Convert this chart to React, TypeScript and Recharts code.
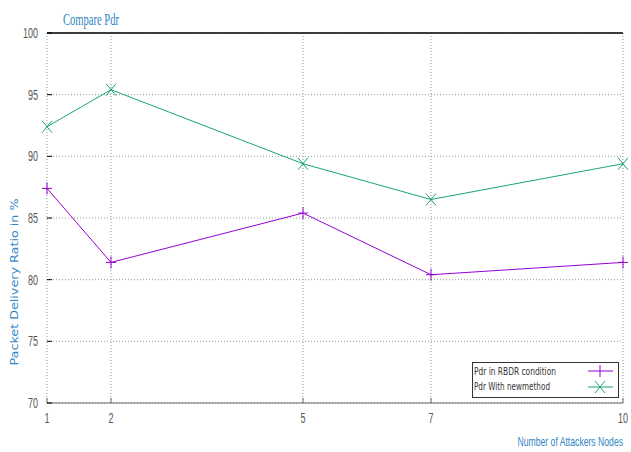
import React from 'react';
import { LineChart, Line, XAxis, YAxis, CartesianGrid, ReferenceLine } from 'recharts';

const attackers = [1, 2, 5, 7, 10];
const pdrRbdr = [87.4, 81.4, 85.4, 80.4, 81.4];
const pdrNew = [92.4, 95.4, 89.4, 86.5, 89.4];
const yTicks = [70, 75, 80, 85, 90, 95, 100];

const PURPLE = '#9400d3';
const GREEN = '#1aa37a';
const BLUE = '#2f86c6';
const NARROW = '"Liberation Sans Narrow", "DejaVu Sans Condensed", sans-serif';

const data = attackers.map((n, i) => ({ n, rbdr: pdrRbdr[i], fresh: pdrNew[i] }));

// gnuplot-style squeezed tick labels
const SqueezedTick = (props: any) => {
  const { x, y, payload, anchor, dy } = props;
  return (
    <g transform={`translate(${x},${y}) scale(0.6,1)`}>
      <text x={0} y={0} dy={dy} textAnchor={anchor} fontFamily='"Liberation Sans", sans-serif' fontSize={15} fill="#555">
        {payload.value}
      </text>
    </g>
  );
};

const PlusDot = (props: any) => {
  const { cx, cy } = props;
  if (cx == null || cy == null) return null;
  return (
    <g stroke={PURPLE} strokeWidth={1}>
      <line x1={cx - 5} y1={cy} x2={cx + 5} y2={cy} />
      <line x1={cx} y1={cy - 6} x2={cx} y2={cy + 6} />
    </g>
  );
};

const CrossDot = (props: any) => {
  const { cx, cy } = props;
  if (cx == null || cy == null) return null;
  return (
    <g stroke={GREEN} strokeWidth={1}>
      <line x1={cx - 5} y1={cy - 6} x2={cx + 5} y2={cy + 6} />
      <line x1={cx - 5} y1={cy + 6} x2={cx + 5} y2={cy - 6} />
    </g>
  );
};

const LegendBox = () => (
  <svg width={148} height={37} style={{ position: 'absolute', left: 472, top: 362 }}>
    <rect x={0.5} y={0.5} width={146} height={35} fill="#fff" stroke="#333" />
    <text x={2} y={13} fontFamily={NARROW} fontSize={11} fill="#333" textLength={82} lengthAdjust="spacingAndGlyphs">
      Pdr in RBDR condition
    </text>
    <text x={2} y={28} fontFamily={NARROW} fontSize={11} fill="#333" textLength={76} lengthAdjust="spacingAndGlyphs">
      Pdr With newmethod
    </text>
    <line x1={116} y1={9} x2={141} y2={9} stroke={PURPLE} />
    <line x1={128} y1={3} x2={128} y2={15} stroke={PURPLE} />
    <line x1={116} y1={25} x2={141} y2={25} stroke={GREEN} />
    <line x1={123} y1={19} x2={133} y2={31} stroke={GREEN} />
    <line x1={123} y1={31} x2={133} y2={19} stroke={GREEN} />
  </svg>
);

export default function App() {
  return (
    <div style={{ position: 'absolute', left: 0, top: 0, width: 631, height: 452, background: '#fff' }}>
      <LineChart width={631} height={452} data={data} margin={{ top: 33, right: 8, left: 7, bottom: 19 }}>
        <CartesianGrid stroke="#999" strokeDasharray="1 2" />
        <XAxis
          dataKey="n"
          type="number"
          domain={[1, 10]}
          ticks={attackers}
          height={30}
          tickSize={-5}
          tickMargin={14}
          stroke="#666"
          tick={<SqueezedTick anchor="middle" dy={11} />}
        />
        <YAxis
          type="number"
          domain={[70, 100]}
          ticks={yTicks}
          width={40}
          tickSize={-5}
          tickMargin={14}
          axisLine={false}
          tickLine={{ stroke: '#000' }}
          tick={<SqueezedTick anchor="end" dy={5} />}
        />
        <ReferenceLine y={100} stroke="#000" strokeWidth={1.5} />
        <Line
          dataKey="rbdr"
          name="Pdr in RBDR condition"
          stroke={PURPLE}
          strokeWidth={1}
          dot={<PlusDot />}
          activeDot={false}
          isAnimationActive={false}
        />
        <Line
          dataKey="fresh"
          name="Pdr With newmethod"
          stroke={GREEN}
          strokeWidth={1}
          dot={<CrossDot />}
          activeDot={false}
          isAnimationActive={false}
        />
      </LineChart>
      <LegendBox />
      <svg width={631} height={452} style={{ position: 'absolute', left: 0, top: 0, pointerEvents: 'none' }}>
        <text x={63} y={25} fontFamily='"Liberation Serif", serif' fontSize={17} fill={BLUE} textLength={56} lengthAdjust="spacingAndGlyphs">
          Compare Pdr
        </text>
        <text
          x={0}
          y={0}
          transform="translate(18,282) rotate(-90)"
          textAnchor="middle"
          fontFamily='"DejaVu Sans", sans-serif'
          fontSize={11}
          fill={BLUE}
          textLength={167}
          lengthAdjust="spacingAndGlyphs"
        >
          Packet Delivery Ratio in %
        </text>
        <g transform="translate(623,446) scale(0.72,1)">
          <text x={0} y={0} textAnchor="end" fontFamily='"Liberation Sans", sans-serif' fontSize={12} fill={BLUE}>
            Number of  Attackers Nodes
          </text>
        </g>
      </svg>
    </div>
  );
}
